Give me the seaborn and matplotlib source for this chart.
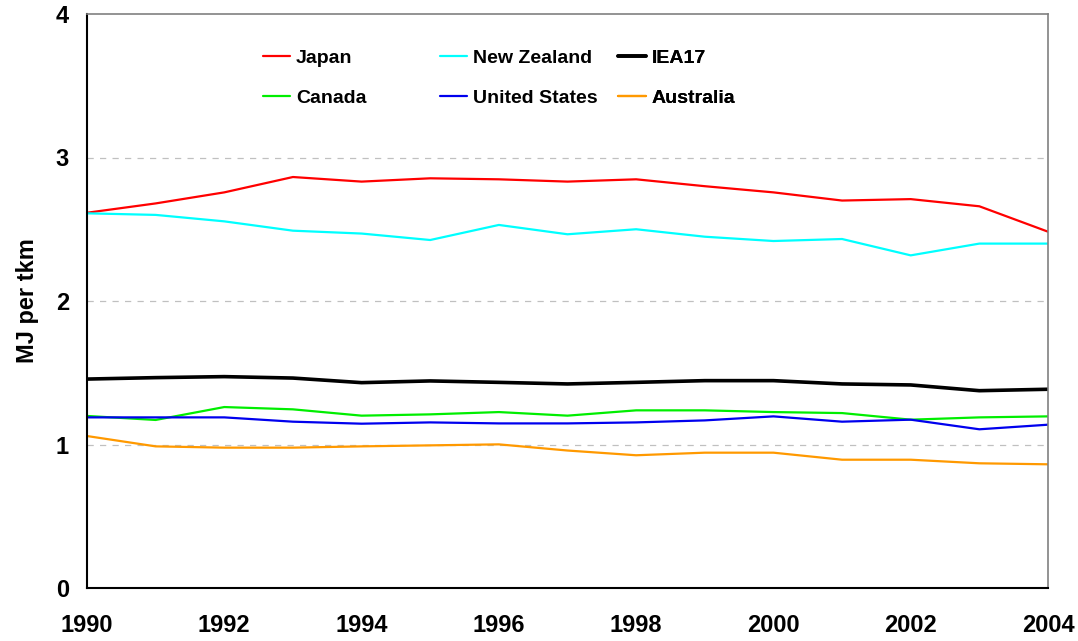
import pandas as pd
import matplotlib.pyplot as plt
import seaborn as sns

# data
years = list(range(1990, 2005))
japan = [2.615, 2.68, 2.757, 2.864, 2.832, 2.855, 2.848, 2.832, 2.848, 2.80, 2.757, 2.70, 2.71, 2.66, 2.483]
new_zealand = [2.611, 2.60, 2.555, 2.49, 2.47, 2.425, 2.53, 2.465, 2.50, 2.448, 2.418, 2.432, 2.318, 2.40, 2.40]
iea17 = [1.456, 1.466, 1.473, 1.463, 1.431, 1.443, 1.433, 1.422, 1.433, 1.445, 1.445, 1.422, 1.415, 1.375, 1.385]
canada = [1.199, 1.171, 1.261, 1.245, 1.201, 1.21, 1.226, 1.201, 1.238, 1.238, 1.226, 1.219, 1.173, 1.189, 1.196]
united_states = [1.189, 1.189, 1.189, 1.159, 1.145, 1.154, 1.147, 1.147, 1.154, 1.168, 1.196, 1.159, 1.173, 1.106, 1.138]
australia = [1.059, 0.987, 0.978, 0.978, 0.987, 0.994, 1.001, 0.958, 0.925, 0.943, 0.943, 0.894, 0.894, 0.869, 0.862]

series = {
    "Japan": japan,
    "Canada": canada,
    "New Zealand": new_zealand,
    "United States": united_states,
    "IEA17": iea17,
    "Australia": australia,
}
colors = {
    "Japan": "#ff0000",
    "Canada": "#00ee00",
    "New Zealand": "#00ffff",
    "United States": "#0000ee",
    "IEA17": "#000000",
    "Australia": "#ff9900",
}

rows = []
for name, vals in series.items():
    for yr, v in zip(years, vals):
        rows.append({"year": yr, "value": v, "country": name})
df = pd.DataFrame(rows)

sns.set_style("white")
plt.rcParams["font.family"] = ["Liberation Sans", "DejaVu Sans"]
plt.rcParams["text.color"] = "black"
plt.rcParams["axes.labelcolor"] = "black"
plt.rcParams["xtick.color"] = "black"
plt.rcParams["ytick.color"] = "black"

fig = plt.figure(figsize=(10.78, 6.41), dpi=100)
ax = fig.add_axes([87 / 1078, 53 / 641, 961 / 1078, 574 / 641])

sns.lineplot(data=df, x="year", y="value", hue="country", palette=colors,
             hue_order=list(series.keys()), linewidth=1.6, ax=ax, legend=False)
for line, name in zip(ax.get_lines(), series.keys()):
    if name == "IEA17":
        line.set_linewidth(2.6)

ax.set_xlim(1990, 2004)
ax.set_ylim(0, 4)
ax.set_xticks(range(1990, 2005, 2))
ax.set_yticks([0, 1, 2, 3, 4])
for y in [1, 2, 3]:
    ax.axhline(y, color="#c0c0c0", linestyle=(0, (5, 5)), linewidth=0.9, zorder=0)

ax.set_xlabel("")
ax.set_ylabel("MJ per tkm", fontsize=17, fontweight="bold", labelpad=12)
ax.tick_params(axis="x", direction="out", length=6, width=1, color="black",
               pad=13, labelsize=17)
ax.tick_params(axis="y", length=0, pad=13, labelsize=17)
for lab in ax.get_xticklabels() + ax.get_yticklabels():
    lab.set_fontweight("bold")

for side in ["left", "bottom"]:
    ax.spines[side].set_color("black")
    ax.spines[side].set_linewidth(1.5)
for side in ["top", "right"]:
    ax.spines[side].set_color("#808080")
    ax.spines[side].set_linewidth(1.2)

# legend: three equal-width columns, two rows each
columns = [("Japan", "Canada"), ("New Zealand", "United States"), ("IEA17", "Australia")]
col_x = [0.183, 0.367, 0.553]
for names, x0 in zip(columns, col_x):
    handles = []
    for n in names:
        h = plt.Line2D([], [], color=colors[n], linewidth=2.6 if n == "IEA17" else 1.6)
        handles.append(h)
    leg = ax.legend(handles, list(names), frameon=False, loc="upper left",
                    bbox_to_anchor=(x0, 0.939), borderpad=0, borderaxespad=0,
                    prop={"weight": "bold", "size": 14},
                    handlelength=1.4, handletextpad=0.3, labelspacing=1.15)
    ax.add_artist(leg)

fig.savefig("out.png", dpi=100)
